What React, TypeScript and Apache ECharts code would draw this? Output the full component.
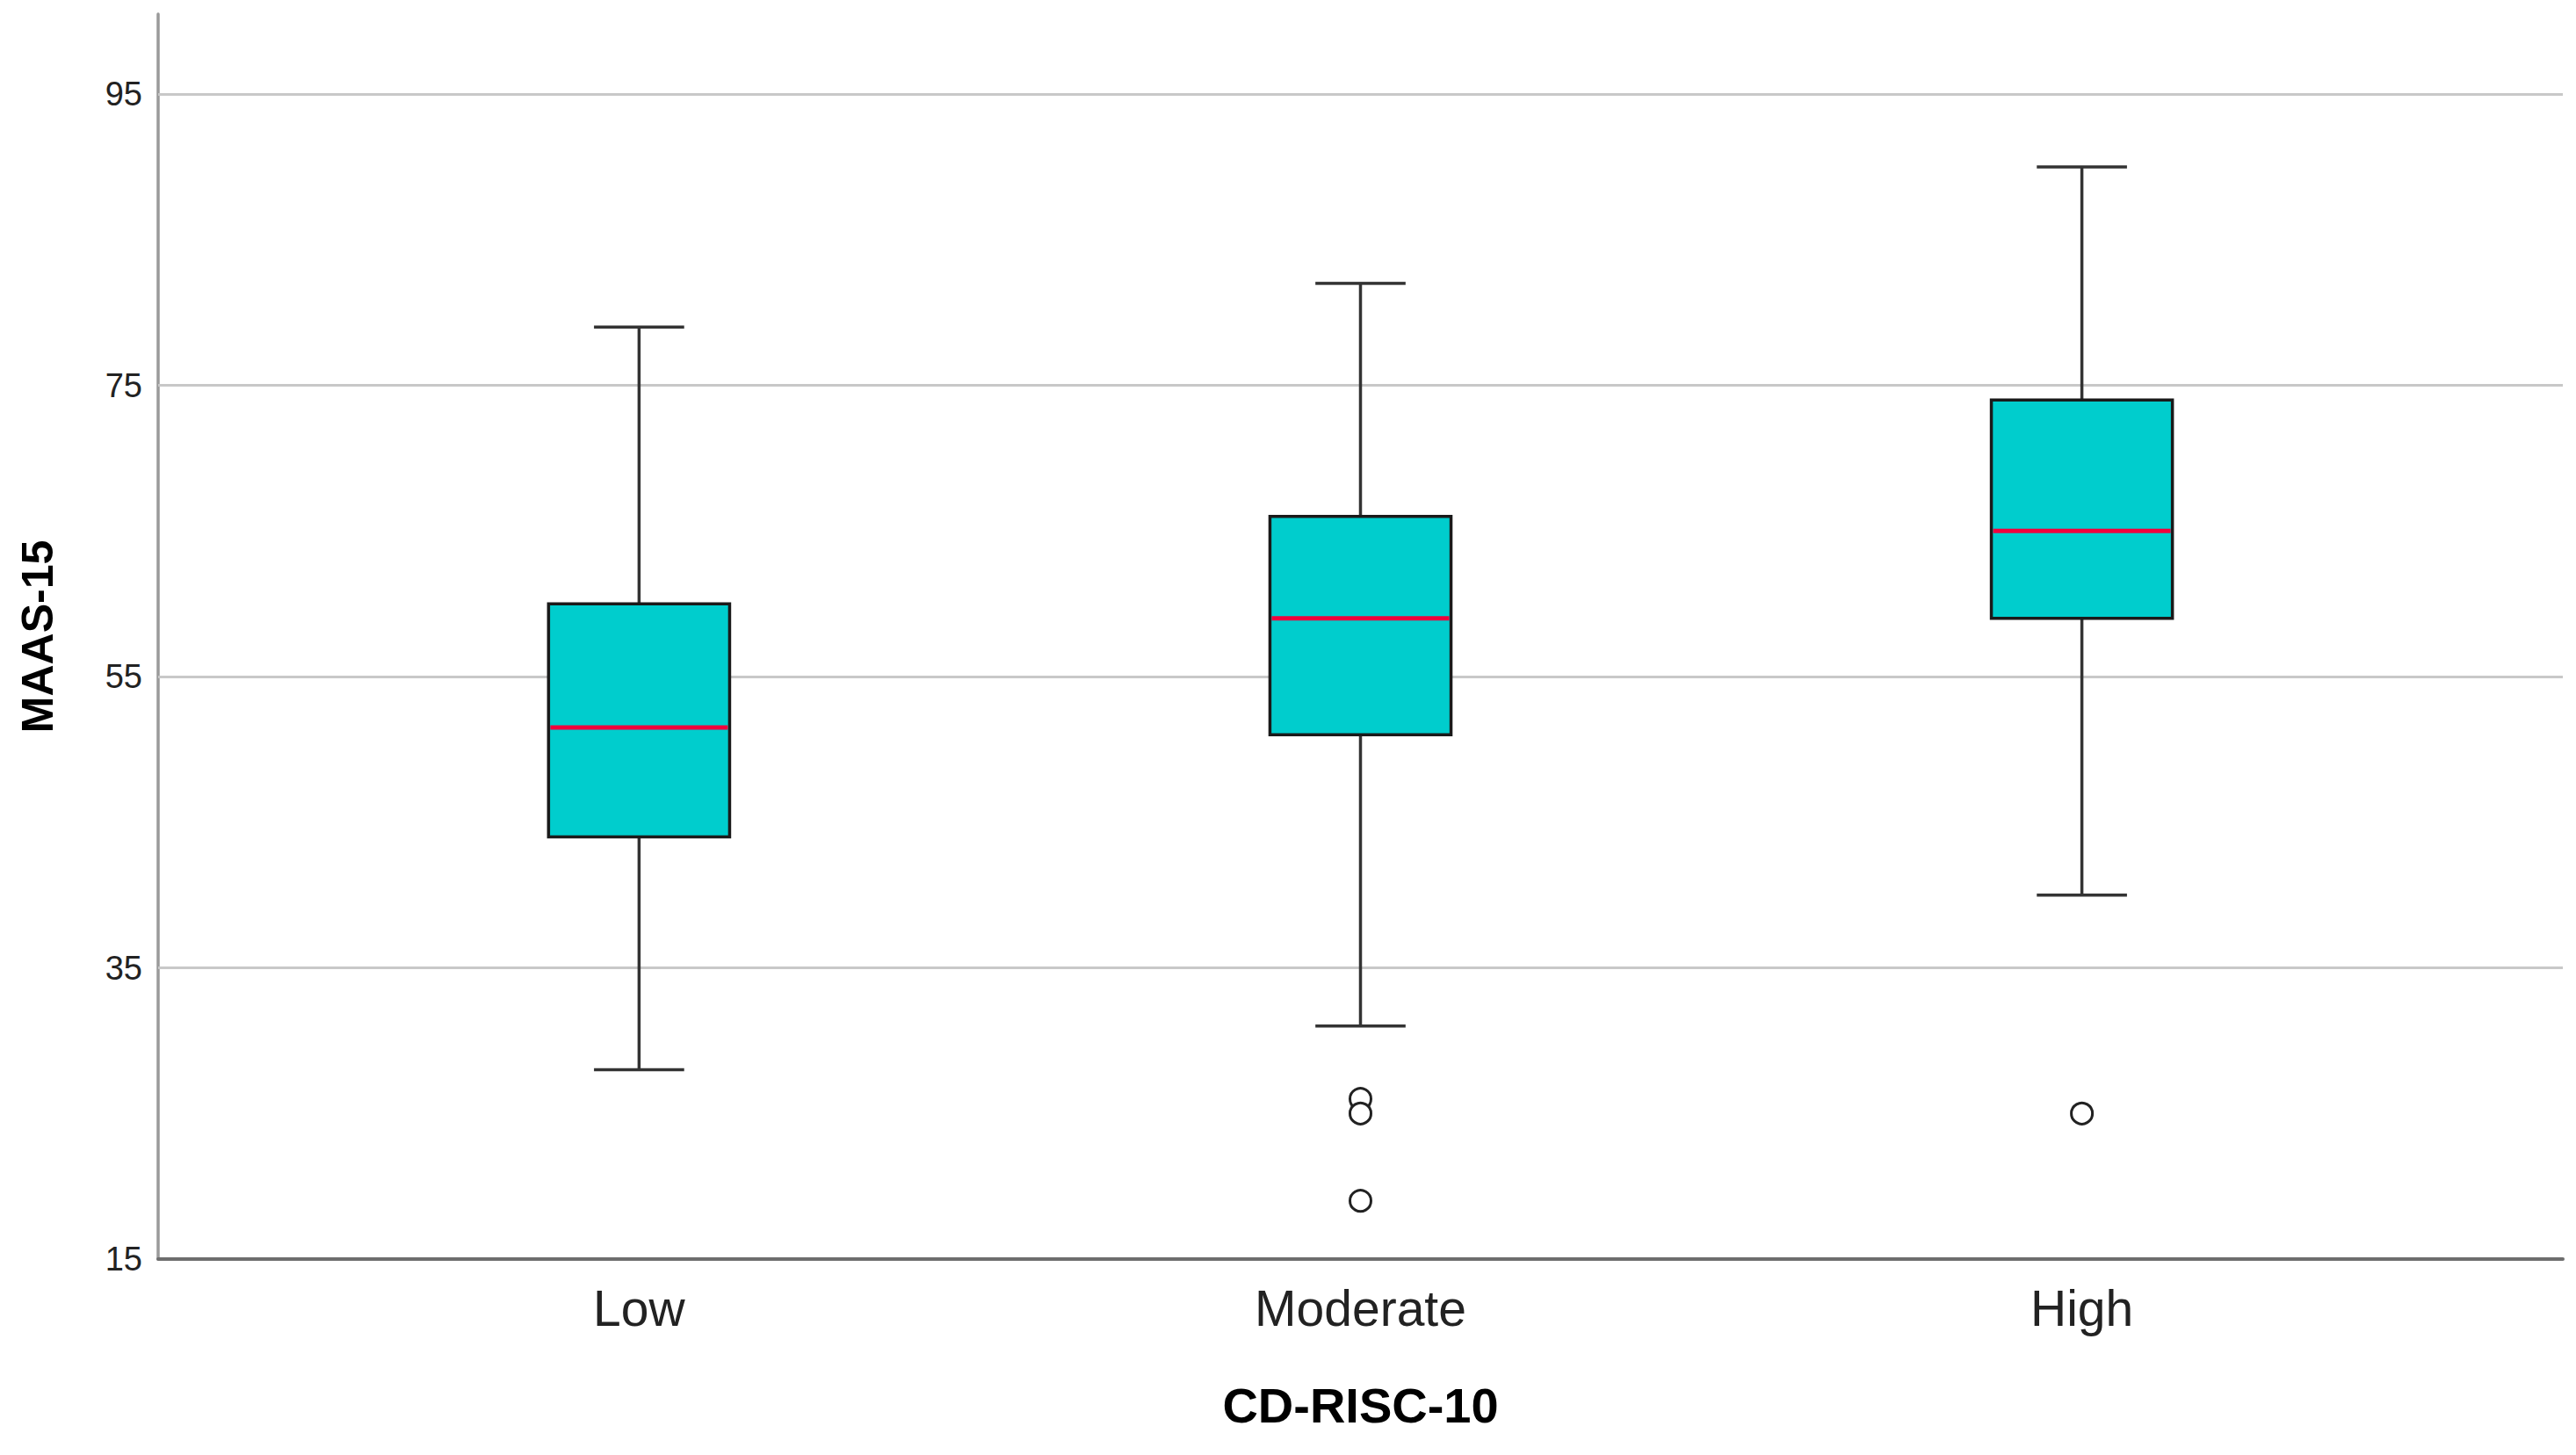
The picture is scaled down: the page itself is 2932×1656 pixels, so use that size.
import React, { useEffect, useRef } from "react";
import * as echarts from "echarts";

const categories = ["Low", "Moderate", "High"];
const whiskerLow = [28, 31, 40];
const quartile1 = [44, 51, 59];
const medians = [51.5, 59, 65];
const quartile3 = [60, 66, 74];
const whiskerHigh = [79, 82, 90];
const outlierCategory = [1, 1, 1, 2];
const outlierValues = [26, 25, 19, 25];
const yTicks = [15, 35, 55, 75, 95];

const FONT = "Liberation Sans, Arial, sans-serif";
const BOX_W = 0.251;
const CAP_W = 0.125;

export default function App() {
  const ref = useRef<HTMLDivElement>(null);
  useEffect(() => {
    document.body.style.margin = "0";
    const chart = echarts.init(ref.current!, null, { renderer: "svg" });
    const boxData = categories.map((_, i) => [i, whiskerLow[i], quartile1[i], medians[i], quartile3[i], whiskerHigh[i]]);
    const outData = outlierCategory.map((c, i) => [c, outlierValues[i]]);
    chart.setOption({
      animation: false,
      backgroundColor: "#ffffff",
      grid: { left: 180, right: 15, top: 16, bottom: 223, containLabel: false },
      xAxis: {
        type: "value",
        min: -2 / 3,
        max: 8 / 3,
        name: "CD-RISC-10",
        nameLocation: "middle",
        nameGap: 138,
        nameTextStyle: { fontFamily: FONT, fontSize: 56, fontWeight: "bold", color: "#000" },
        axisLine: { show: true, onZero: false, lineStyle: { color: "#6e6e6e", width: 4 } },
        axisTick: { show: false },
        splitLine: { show: false },
        axisLabel: {
          customValues: [0, 1, 2],
          formatter: (v: number) => categories[Math.round(v)] ?? "",
          fontFamily: FONT,
          fontSize: 57,
          color: "#222",
          margin: 27,
        },
      },
      yAxis: {
        type: "value",
        min: 15,
        max: 100.5,
        interval: 20,
        name: "MAAS-15",
        nameLocation: "middle",
        nameGap: 112,
        nameTextStyle: { fontFamily: FONT, fontSize: 50, fontWeight: "bold", color: "#000" },
        axisLine: { show: true, onZero: false, lineStyle: { color: "#9a9a9a", width: 3.5 } },
        axisTick: { show: false },
        splitLine: { show: false },
        axisLabel: {
          showMaxLabel: false,
          fontFamily: FONT,
          fontSize: 38,
          color: "#222",
          margin: 18,
        },
      },
      series: [
        {
          type: "custom",
          data: boxData,
          z: 3,
          renderItem: (params: any, api: any) => {
            const x = api.value(0);
            const lo = api.coord([x, api.value(1)]);
            const q1 = api.coord([x, api.value(2)]);
            const med = api.coord([x, api.value(3)]);
            const q3 = api.coord([x, api.value(4)]);
            const hi = api.coord([x, api.value(5)]);
            const bw = api.size([BOX_W, 0])[0];
            const cw = api.size([CAP_W, 0])[0];
            const cx = lo[0];
            const wStyle = { stroke: "#333333", lineWidth: 3.5 };
            return {
              type: "group",
              children: [
                { type: "line", shape: { x1: cx, y1: q3[1], x2: cx, y2: hi[1] }, style: wStyle },
                { type: "line", shape: { x1: cx, y1: q1[1], x2: cx, y2: lo[1] }, style: wStyle },
                { type: "line", shape: { x1: cx - cw / 2, y1: hi[1], x2: cx + cw / 2, y2: hi[1] }, style: wStyle },
                { type: "line", shape: { x1: cx - cw / 2, y1: lo[1], x2: cx + cw / 2, y2: lo[1] }, style: wStyle },
                {
                  type: "rect",
                  shape: { x: cx - bw / 2, y: q3[1], width: bw, height: q1[1] - q3[1] },
                  style: { fill: "#00CDCD", stroke: "#1a1a1a", lineWidth: 3.5 },
                },
                {
                  type: "line",
                  shape: { x1: cx - bw / 2 + 2, y1: med[1], x2: cx + bw / 2 - 2, y2: med[1] },
                  style: { stroke: "#F0003C", lineWidth: 5 },
                },
              ],
            };
          },
        },
        {
          type: "scatter",
          data: outData,
          z: 4,
          symbol: "circle",
          symbolSize: 24,
          itemStyle: { color: "#ffffff", borderColor: "#222222", borderWidth: 3, opacity: 1 },
          markLine: {
            silent: true,
            symbol: "none",
            z: 1,
            label: { show: false },
            lineStyle: { color: "#c8c8c8", width: 3, type: "solid" },
            data: yTicks.filter((v) => v > 15).map((v) => ({ yAxis: v })),
          },
        },
      ],
    });
    return () => chart.dispose();
  }, []);
  return <div ref={ref} style={{ width: 2932, height: 1656 }} />;
}
